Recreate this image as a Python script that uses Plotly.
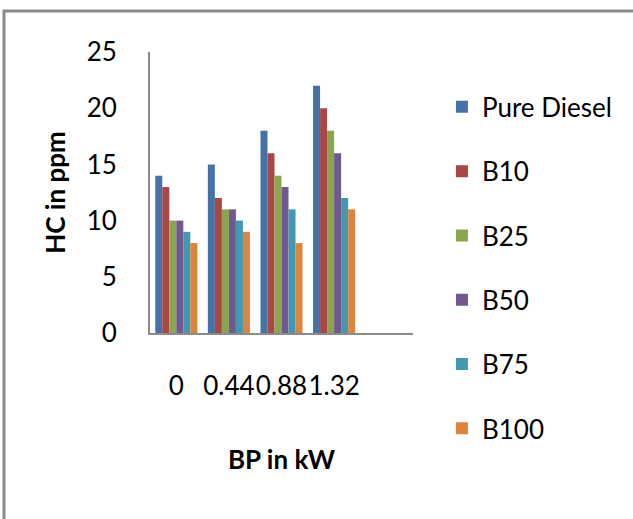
import plotly.graph_objects as go

categories = ["0", "0.44", "0.88", "1.32"]
series_names = ["Pure Diesel", "B10", "B25", "B50", "B75", "B100"]
pure_diesel = [14, 15, 18, 22]
b10 = [13, 12, 16, 20]
b25 = [10, 11, 14, 18]
b50 = [10, 11, 13, 16]
b75 = [9, 10, 11, 12]
b100 = [8, 9, 8, 11]
y_ticks = [0, 5, 10, 15, 20, 25]

series_values = [pure_diesel, b10, b25, b50, b75, b100]
colors = ["#4672A8", "#AA4643", "#89A54E", "#71588F", "#4198AF", "#DB843D"]

FONT = "Lato, 'Open Sans', sans-serif"

fig = go.Figure()
for name, vals, col in zip(series_names, series_values, colors):
    fig.add_trace(go.Bar(x=categories, y=vals, name=name, marker_color=col,
                         marker_line_width=0, legendgroup=name))

W, H = 633, 519
L, R, T, B = 150, 220, 52, 186
pw, ph = W - L - R, H - T - B

def px2paper(x, y):
    return (x - L) / pw, (H - B - y) / ph

x0, y0 = px2paper(4, 11)
x1, y1 = px2paper(660, 560)

fig.update_layout(
    width=W, height=H,
    margin=dict(l=L, r=R, t=T, b=B, autoexpand=False),
    paper_bgcolor="white", plot_bgcolor="white",
    barmode="group", bargap=0.2, bargroupgap=0,
    font=dict(family=FONT, size=26, color="#000000"),
    showlegend=True,
    legend=dict(x=1.11, xanchor="left", y=0.888, yanchor="top",
                font=dict(size=26, family=FONT), tracegroupgap=27.5,
                maxheight=480,
                bgcolor="rgba(0,0,0,0)", traceorder="grouped"),
    xaxis=dict(type="category", range=[-0.5, 4.5], showline=True,
               linecolor="#8c8c8c", linewidth=2, ticks="", showgrid=False,
               tickangle=0,
               ticklabelstandoff=29, tickfont=dict(size=26),
               title=dict(text="<b>BP in kW</b>", font=dict(size=26), standoff=51)),
    yaxis=dict(range=[0, 25], tickvals=y_ticks, showline=True,
               linecolor="#8c8c8c", linewidth=2, ticks="", showgrid=False,
               zeroline=False, ticklabelstandoff=26, tickfont=dict(size=26),
               title=dict(text="<b>HC in ppm</b>", font=dict(size=26), standoff=14)),
    shapes=[dict(type="rect", xref="paper", yref="paper",
                 x0=x0, y0=y1, x1=x1, y1=y0,
                 line=dict(color="#8a8a8a", width=3), fillcolor="rgba(0,0,0,0)",
                 layer="below")],
)

fig.write_html("out.html")
